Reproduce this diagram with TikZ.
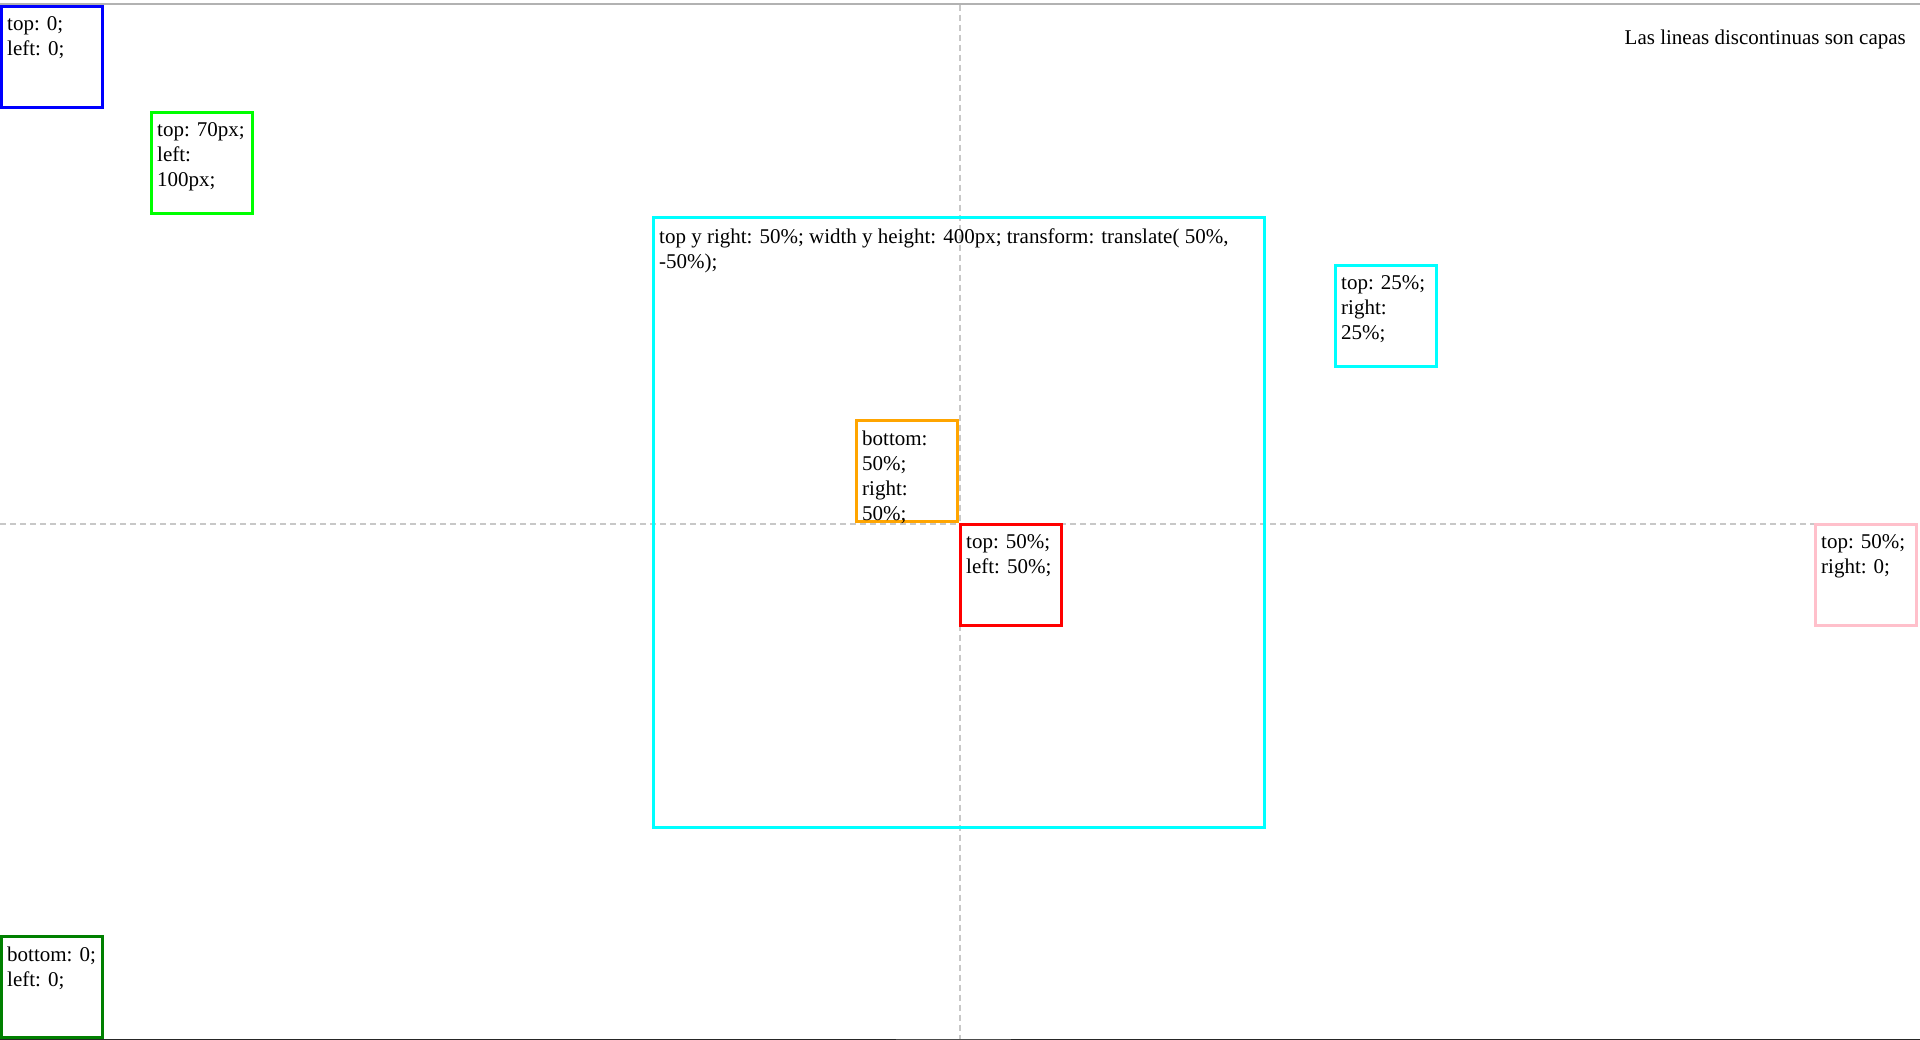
\documentclass[tikz,border=0pt]{standalone}
\usepackage{fontspec}
\setmainfont{Liberation Serif}
\definecolor{capagris}{HTML}{C8C8C8}
\definecolor{lima}{HTML}{00FF00}
\definecolor{cian}{HTML}{00FFFF}
\definecolor{naranja}{HTML}{FFA500}
\definecolor{rosa}{HTML}{FFC0CB}
\definecolor{verde}{HTML}{008000}
\begin{document}
\begin{tikzpicture}[x=1pt,y=-1pt,
		caja/.style={line width=3pt},
		nota/.style={anchor=north west,inner sep=0pt,align=left,font=\fontsize{21}{25}\selectfont},
		capa/.style={color=capagris,line width=2pt,dash pattern=on 6pt off 4pt}]
		\useasboundingbox (0,0) rectangle (1920,1040);
		\draw[color=black!30, line width=1.5pt] (0,4) -- (1920,4);
		
		% capas
		\draw[capa] (0,523.5) -- (1920,523.5);
		\draw[capa] (960,4.7) -- (960,1039);
		
		\draw[caja, color=blue] (1.5,6.5) rectangle (102.5,107.5);
		\node[nota] (arribaIzq) at (7,16.7) {top: 0;\\left: 0;};
		
		\draw[caja, color=lima] (151.5,112.5) rectangle (252.5,213.5);
		\node[nota] (setenta) at (157,122.7) {top: 70px;\\left:\\100px;};
		
		\draw[caja, color=cian] (653.5,217.5) rectangle (1264.5,827.5);
		\node[nota] (centrada) at (659,228.2) {top y right: 50\%; width y height: 400px; transform: translate( 50\%,\\-50\%);};
		
		\draw[caja, color=cian] (1335.5,265.5) rectangle (1436.5,366.5);
		\node[nota] (cuarto) at (1341,275.7) {top: 25\%;\\right:\\25\%;};
		
		\draw[caja, color=naranja] (856.5,420.5) rectangle (957.5,521.5);
		\node[nota] (abajoDer) at (862,430.7) {bottom:\\50\%;\\right:\\50\%;};
		
		\draw[caja, color=red] (960.5,524.5) rectangle (1061.5,625.5);
		\node[nota] (mitad) at (966,534.7) {top: 50\%;\\left: 50\%;};
		
		\draw[caja, color=rosa] (1815.5,524.5) rectangle (1916.5,625.5);
		\node[nota] (derecha) at (1821,534.7) {top: 50\%;\\right: 0;};
		
		\draw[caja, color=verde] (1.5,936.5) rectangle (102.5,1037.5);
		\node[nota] (abajoIzq) at (7,946.7) {bottom: 0;\\left: 0;};
		
		\node[anchor=base east, inner sep=0pt, font=\fontsize{21}{25}\selectfont] (leyenda) at (1906,45) {Las lineas discontinuas son capas};
		
		\draw[color=black!85, line width=1pt] (0,1039.5) -- (1920,1039.5);
		\draw[color=black!70, line width=1pt] (896,1039.5) -- (1011,1039.5);
	\end{tikzpicture}
\end{document}
